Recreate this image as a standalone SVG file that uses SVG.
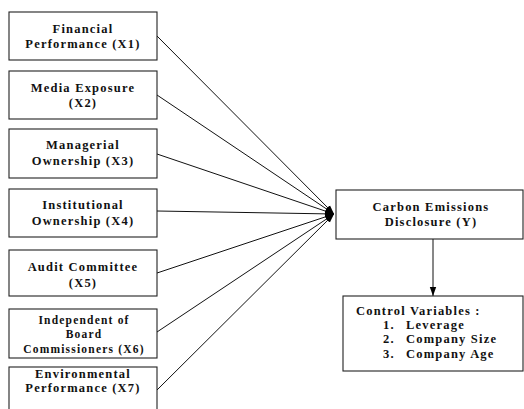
<svg xmlns="http://www.w3.org/2000/svg" width="524" height="409" viewBox="0 0 524 409">
<style>
  .box { fill: #fff; stroke: #222; stroke-width: 1.1; }
  .t { font-family: "Liberation Serif", "Times New Roman", serif; font-weight: bold; font-size: 12.5px; letter-spacing: 1.2px; fill: #111; text-anchor: middle; }
  .s { font-size: 11.5px; letter-spacing: 1.2px; }
  .l { text-anchor: start; }
  .c { stroke: #111; stroke-width: 1; fill: none; }
</style>
<defs>
  <marker id="ah" markerUnits="userSpaceOnUse" markerWidth="10" markerHeight="8" refX="9" refY="4" orient="auto">
    <path d="M0,0.8 L9,4 L0,7.2 Z" fill="#000"/>
  </marker>
</defs>
<rect width="524" height="409" fill="#fff"/>
<g id="connectors">
  <line class="c" x1="157" y1="36" x2="334" y2="214" marker-end="url(#ah)"/>
  <line class="c" x1="157" y1="95" x2="334" y2="214" marker-end="url(#ah)"/>
  <line class="c" x1="157" y1="154" x2="334" y2="214" marker-end="url(#ah)"/>
  <line class="c" x1="157" y1="211" x2="334" y2="214" marker-end="url(#ah)"/>
  <line class="c" x1="157" y1="273" x2="334" y2="214" marker-end="url(#ah)"/>
  <line class="c" x1="157" y1="332" x2="334" y2="214" marker-end="url(#ah)"/>
  <line class="c" x1="157" y1="390" x2="334" y2="214" marker-end="url(#ah)"/>
  <line class="c" x1="433" y1="239" x2="433" y2="296" marker-end="url(#ah)"/>
</g>
<g id="x1">
  <rect class="box" x="9" y="12" width="148" height="48"/>
  <text class="t" x="83" y="33">Financial</text>
  <text class="t" x="83" y="48">Performance (X1)</text>
</g>
<g id="x2">
  <rect class="box" x="9" y="71" width="148" height="48"/>
  <text class="t" x="83" y="92">Media Exposure</text>
  <text class="t" x="83" y="107">(X2)</text>
</g>
<g id="x3">
  <rect class="box" x="9" y="129" width="148" height="49"/>
  <text class="t" x="83" y="149">Managerial</text>
  <text class="t" x="83" y="165">Ownership (X3)</text>
</g>
<g id="x4">
  <rect class="box" x="9" y="189" width="148" height="48"/>
  <text class="t" x="83" y="209">Institutional</text>
  <text class="t" x="83" y="225">Ownership (X4)</text>
</g>
<g id="x5">
  <rect class="box" x="9" y="250" width="148" height="46"/>
  <text class="t" x="83" y="271">Audit Committee</text>
  <text class="t" x="83" y="287">(X5)</text>
</g>
<g id="x6">
  <rect class="box" x="9" y="309" width="148" height="49"/>
  <text class="t s" x="84" y="324">Independent of</text>
  <text class="t s" x="84" y="338">Board</text>
  <text class="t s" x="84" y="353">Commissioners (X6)</text>
</g>
<g id="x7">
  <rect class="box" x="9" y="367" width="148" height="50"/>
  <text class="t" x="83" y="378">Environmental</text>
  <text class="t" x="83" y="392">Performance (X7)</text>
</g>
<g id="y">
  <rect class="box" x="336" y="190" width="187" height="49"/>
  <text class="t" x="431" y="211">Carbon Emissions</text>
  <text class="t" x="431" y="226">Disclosure (Y)</text>
</g>
<g id="control">
  <rect class="box" x="343" y="296" width="180" height="75"/>
  <text class="t l" x="356" y="315">Control Variables :</text>
  <text class="t l" x="383" y="329">1.</text>
  <text class="t l" x="406" y="329">Leverage</text>
  <text class="t l" x="383" y="343">2.</text>
  <text class="t l" x="406" y="343">Company Size</text>
  <text class="t l" x="383" y="358">3.</text>
  <text class="t l" x="406" y="358">Company Age</text>
</g>
</svg>
